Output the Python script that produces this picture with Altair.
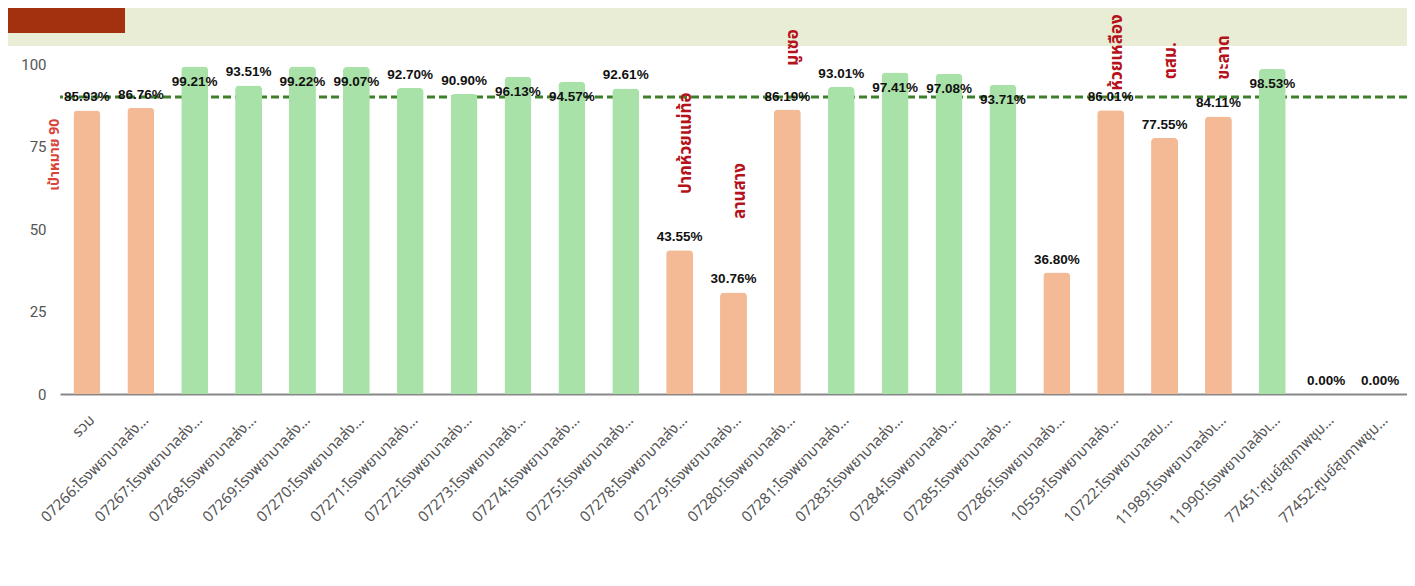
import altair as alt
import pandas as pd

categories = [
    "รวม",
    "07266:โรงพยาบาลส่ง…", "07267:โรงพยาบาลส่ง…", "07268:โรงพยาบาลส่ง…",
    "07269:โรงพยาบาลส่ง…", "07270:โรงพยาบาลส่ง…", "07271:โรงพยาบาลส่ง…",
    "07272:โรงพยาบาลส่ง…", "07273:โรงพยาบาลส่ง…", "07274:โรงพยาบาลส่ง…",
    "07275:โรงพยาบาลส่ง…", "07278:โรงพยาบาลส่ง…", "07279:โรงพยาบาลส่ง…",
    "07280:โรงพยาบาลส่ง…", "07281:โรงพยาบาลส่ง…", "07283:โรงพยาบาลส่ง…",
    "07284:โรงพยาบาลส่ง…", "07285:โรงพยาบาลส่ง…", "07286:โรงพยาบาลส่ง…",
    "10559:โรงพยาบาลส่ง…", "10722:โรงพยาบาลสม…", "11989:โรงพยาบาลส่งเ…",
    "11990:โรงพยาบาลส่งเ…", "77451:ศูนย์สุขภาพชุม…", "77452:ศูนย์สุขภาพชุม…",
]
values = [85.93, 86.76, 99.21, 93.51, 99.22, 99.07, 92.70, 90.90, 96.13, 94.57,
          92.61, 43.55, 30.76, 86.19, 93.01, 97.41, 97.08, 93.71, 36.80, 86.01,
          77.55, 84.11, 98.53, 0.00, 0.00]

target = 90
target_label = "เป้าหมาย 90"

note_texts = ["ปากห้วยแม่ท้อ", "ลานสาง", "มูเซอ", "ห้วยเหลือง", "ตสม.", "ขะลาด"]
note_cats = ["07278:โรงพยาบาลส่ง…", "07279:โรงพยาบาลส่ง…", "07280:โรงพยาบาลส่ง…",
             "10559:โรงพยาบาลส่ง…", "10722:โรงพยาบาลสม…", "11989:โรงพยาบาลส่งเ…"]
note_y = [76, 61.5, 105, 103.5, 101, 102]

df = pd.DataFrame({"cat": categories, "value": values})
df["label"] = [f"{v:.2f}%" for v in values]
notes = pd.DataFrame({"cat": note_cats, "text": note_texts, "y": note_y})

W, H = 1347, 330
THAI = "Noto Sans Thai, Loma, Tlwg Typo, Garuda, Liberation Sans, sans-serif"

xenc = alt.X("cat:N", sort=categories, title=None,
             scale=alt.Scale(paddingInner=0.5, paddingOuter=0.25),
             axis=alt.Axis(labelAngle=-45, labelFontSize=15, labelColor="#555",
                           labelFont=THAI, ticks=False, domainColor="#888",
                           domainWidth=2, labelPadding=18, labelLimit=300))
yscale = alt.Scale(domain=[0, 100])

one = pd.DataFrame({"k": [0]})

# slide decoration: beige strip above the white card, red corner shape
strip = alt.Chart(one).mark_rect(color="#e9edd6").encode(
    x=alt.value(-52), x2=alt.value(W), y=alt.value(-56), y2=alt.value(-18))
redshape = alt.Chart(one).mark_rect(color="#a3300f").encode(
    x=alt.value(-52), x2=alt.value(65), y=alt.value(-56), y2=alt.value(-31))

base = alt.Chart(df)

bars = base.mark_bar(cornerRadiusTopLeft=4, cornerRadiusTopRight=4).encode(
    x=xenc,
    y=alt.Y("value:Q", scale=yscale, title=None,
            axis=alt.Axis(values=[0, 25, 50, 75, 100], labelFontSize=15,
                          labelColor="#555", domain=False, ticks=False,
                          gridColor="#e6e6e6", labelPadding=14,
                          labelFont="Roboto")),
    color=alt.condition(alt.datum.value >= target, alt.value("#a8e2a8"),
                        alt.value("#f4b995")),
)

rule = alt.Chart(one).mark_rule(color="#3f7f2c", strokeWidth=3,
                                strokeDash=[8, 4]).encode(
    y=alt.datum(target))

lab_above = base.transform_filter(alt.datum.value <= 93.6).mark_text(
    fontSize=13.5, fontWeight="bold", font="Liberation Sans", color="#111",
    dy=-13, baseline="middle").encode(
    x=alt.X("cat:N", sort=categories), y=alt.Y("value:Q", scale=yscale),
    text="label:N")
lab_inside = base.transform_filter(alt.datum.value > 93.6).mark_text(
    fontSize=13.5, fontWeight="bold", font="Liberation Sans", color="#111",
    dy=15, baseline="middle").encode(
    x=alt.X("cat:N", sort=categories), y=alt.Y("value:Q", scale=yscale),
    text="label:N")

note_marks = alt.Chart(notes).mark_text(
    angle=270, fontSize=17, fontWeight="bold", color="#b5121b", font=THAI,
    align="center", baseline="middle", dy=6).encode(
    x=alt.X("cat:N", sort=categories), y=alt.Y("y:Q", scale=yscale),
    text="text:N")

goal = alt.Chart(one).mark_text(
    angle=270, fontSize=14, fontWeight="bold", color="#d8453b", font=THAI,
    align="center", baseline="middle").encode(
    x=alt.value(-5), y=alt.datum(72.5), text=alt.value(target_label))

chart = alt.layer(strip, redshape, rule, bars, lab_above, lab_inside,
                  note_marks, goal).properties(
    width=W, height=H,
    autosize=alt.AutoSizeParams(type="none"),
    padding={"left": 52, "top": 56, "right": 0, "bottom": 182},
    background="white",
).configure_view(stroke=None)

chart.save("out.html", embed_options={"renderer": "svg", "actions": False})
